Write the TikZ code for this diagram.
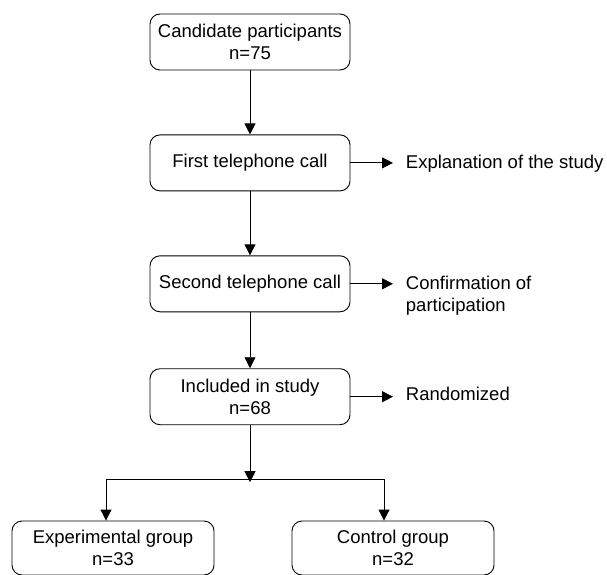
\documentclass[tikz,border=0pt]{standalone}
\usepackage{fontspec}
\setmainfont{Liberation Sans}
\usetikzlibrary{positioning,arrows.meta}

\begin{document}
\begin{tikzpicture}[x=1bp,y=-1bp,
   font=\fontsize{18.5bp}{22bp}\selectfont,
   line width=0.9bp,
   >={Triangle[length=11bp,width=11bp]},
   node distance=64bp,
   box/.style={draw,rounded corners=10bp,minimum width=200bp,minimum height=56bp,align=center,inner sep=2bp},
   note/.style={align=left,inner sep=0pt}]
  \useasboundingbox (0,0) rectangle (607,575);
  % main column
  \node[box] (cand) at (250,42) {Candidate participants\\n=75};
  \node[box,below=of cand] (first) {First telephone call};
  \node[box,below=of first] (second) {Second telephone call};
  \node[box,below=56bp of second] (incl) {Included in study\\n=68};
  \coordinate[below=57bp of incl] (split);
  % the two groups
  \node[box,minimum width=202bp,minimum height=54bp] (exp) at (113,548) {Experimental group\\n=33};
  \node[box,minimum width=202bp,minimum height=54bp] (ctrl) at (393,548) {Control group\\n=32};
  \coordinate (bl) at (106,479);
  \coordinate (br) at (384,479);
  % side notes
  \node[note,anchor=base west] (expl) at (405.5,168.6) {Explanation of the study};
  \node[note,anchor=base west] (conf) at (405.5,311.6) {Confirmation of\\participation};
  \node[note,anchor=base west] (rand) at (405.5,400.6) {Randomized};

  \draw[->] (cand) -- (first);
  \draw[->] (first) -- (second);
  \draw[->] (second) -- (incl);
  \draw[->] (incl) -- (split);
  \draw (bl) -- (br);
  \draw[->] (bl) -- (bl |- exp.north);
  \draw[->] (br) -- (br |- ctrl.north);
  \draw[->,shorten >=12.5bp] (first.east) -- (first.east -| expl.west);
  \draw[->,shorten >=12.5bp] (second.east) -- (second.east -| conf.west);
  \draw[->,shorten >=12.5bp] (incl.east) -- (incl.east -| rand.west);
\end{tikzpicture}
\end{document}
